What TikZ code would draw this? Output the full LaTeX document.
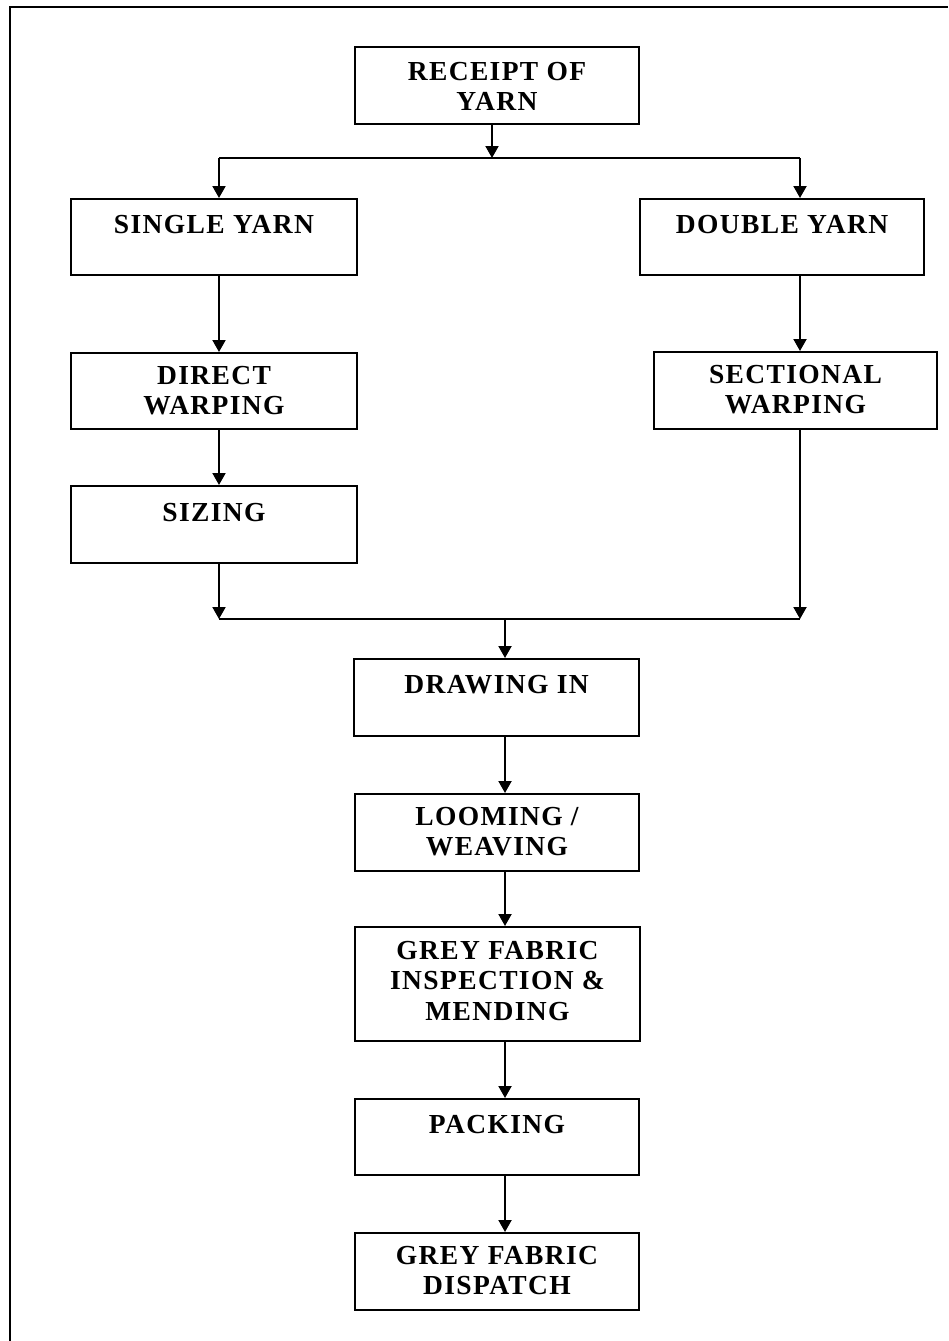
\documentclass[tikz,border=0pt]{standalone}
\usepackage{fontspec}
\setmainfont{Liberation Serif}[LetterSpace=5]
\usetikzlibrary{arrows.meta}
\begin{document}
\begin{tikzpicture}[x=1pt,y=-1pt,
  box/.style={draw=black, line width=2pt, rectangle, inner sep=0pt, anchor=north west},
  lbl/.style={anchor=north, inner sep=0pt, align=center, font=\fontsize{27.5}{30.5}\selectfont\bfseries},
  arr/.style={line width=2pt, -{Triangle[width=13pt,length=12pt]}},
  ln/.style={line width=2pt}]
\fill[white] (0,0) rectangle (948,1341);
\useasboundingbox (0,0) rectangle (948,1341);
\draw[line width=2.5pt] (10,1341) -- (10,7) -- (948,7);

% boxes
\node[box, minimum width=284pt, minimum height=77pt] (receipt) at (354,46) {};
\node[lbl] (receiptT) at ([yshift=-16pt]receipt.north) {RECEIPT OF\\YARN};

\node[box, minimum width=286pt, minimum height=76pt] (single) at (70,198) {};
\node[lbl] (singleT) at ([yshift=-17pt]single.north) {SINGLE YARN};

\node[box, minimum width=284pt, minimum height=76pt] (double) at (639,198) {};
\node[lbl] (doubleT) at ([yshift=-17pt]double.north) {DOUBLE YARN};

\node[box, minimum width=286pt, minimum height=76pt] (direct) at (70,352) {};
\node[lbl] (directT) at ([yshift=-14pt]direct.north) {DIRECT\\WARPING};

\node[box, minimum width=283pt, minimum height=77pt] (sectional) at (653,351) {};
\node[lbl] (sectionalT) at ([yshift=-14pt]sectional.north) {SECTIONAL\\WARPING};

\node[box, minimum width=286pt, minimum height=77pt] (sizing) at (70,485) {};
\node[lbl] (sizingT) at ([yshift=-18pt]sizing.north) {SIZING};

\node[box, minimum width=285pt, minimum height=77pt] (drawing) at (353,658) {};
\node[lbl] (drawingT) at ([yshift=-17pt]drawing.north) {DRAWING IN};

\node[box, minimum width=284pt, minimum height=77pt] (looming) at (354,793) {};
\node[lbl] (loomingT) at ([yshift=-14pt]looming.north) {LOOMING /\\WEAVING};

\node[box, minimum width=285pt, minimum height=114pt] (inspect) at (354,926) {};
\node[lbl] (inspectT) at ([yshift=-15pt]inspect.north) {GREY FABRIC\\INSPECTION \&\\MENDING};

\node[box, minimum width=284pt, minimum height=76pt] (packing) at (354,1098) {};
\node[lbl] (packingT) at ([yshift=-17pt]packing.north) {PACKING};

\node[box, minimum width=284pt, minimum height=77pt] (dispatch) at (354,1232) {};
\node[lbl] (dispatchT) at ([yshift=-14pt]dispatch.north) {GREY FABRIC\\DISPATCH};

% junctions
\coordinate (m1) at (492,158);
\coordinate (sl) at (219,158);
\coordinate (sr) at (800,158);
\coordinate (ml) at (219,619);
\coordinate (mr) at (800,619);
\coordinate (mc) at (505,619);

% connectors
\draw[arr] (receipt.south -| m1) -- (m1);
\draw[ln] (sl) -- (sr);
\draw[arr] (sl) -- (single.north -| sl);
\draw[arr] (sr) -- (double.north -| sr);
\draw[arr] (single.south -| sl) -- (direct.north -| sl);
\draw[arr] (double.south -| sr) -- (sectional.north -| sr);
\draw[arr] (direct.south -| sl) -- (sizing.north -| sl);
\draw[arr] (sizing.south -| ml) -- (ml);
\draw[arr] (sectional.south -| mr) -- (mr);
\draw[ln] (ml) -- (mr);
\draw[arr] (mc) -- (drawing.north -| mc);
\draw[arr] (drawing.south -| mc) -- (looming.north -| mc);
\draw[arr] (looming.south -| mc) -- (inspect.north -| mc);
\draw[arr] (inspect.south -| mc) -- (packing.north -| mc);
\draw[arr] (packing.south -| mc) -- (dispatch.north -| mc);
\end{tikzpicture}
\end{document}
